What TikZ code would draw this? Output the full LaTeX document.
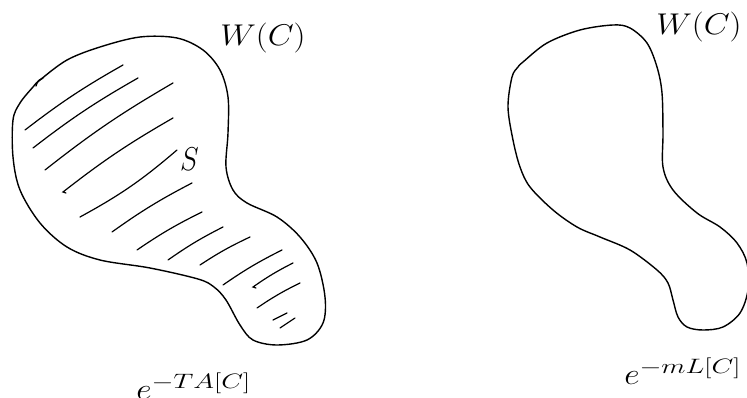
\documentclass[tikz,border=0pt]{standalone}
\usepackage{amsmath}
\DeclareMathSizes{24.88}{24.88}{17.28}{12}
\newcommand{\widesup}[1]{\scalebox{1.21}[1]{$\scriptstyle #1$}}
\begin{document}
\begin{tikzpicture}[x=1pt,y=-1pt,
  curve/.style={line width=1.4pt, line join=round, line cap=round},
  hatch/.style={line width=1.2pt, line cap=round},
  lab/.style={inner sep=0pt, anchor=base west, font=\fontsize{24.88}{30}\selectfont, xscale=1.35, yscale=1.206, transform shape}]
\useasboundingbox (0,0) rectangle (747,398);
% left blob
\draw[curve] plot[smooth cycle, tension=0.55] coordinates {
 (40,80) (67,60) (100,47) (140,37) (177,38) (203,50) (220,70) (228,97)
 (228,133) (226,167) (233,190) (247,203) (277,217) (300,237) (317,263)
 (325,297) (323,323) (307,340) (277,345) (253,340) (240,325) (226,300)
 (214,287) (198,279) (150,268) (100,260) (67,247) (40,223) (20,190)
 (13,157) (13,120) (20,103) (33,87)};
\draw[curve] (36,86) .. controls (37,81) and (40,79) .. (43,78);
% hatching
\draw[hatch] (25,130) to[bend left=4] (123,65);
\draw[hatch] (33,148) to[bend left=4] (138,78);
\draw[hatch] (45,170) to[bend left=4] (173,83);
\draw[hatch] (66,193) -- (63,192) to[bend left=4] (173,118);
\draw[hatch] (80,217) to[bend right=6] (177,150);
\draw[hatch] (112,232) to[bend left=4] (192,183);
\draw[hatch] (137,250) to[bend left=4] (202,212);
\draw[hatch] (168,260) to[bend left=4] (223,227);
\draw[hatch] (200,265) to[bend left=4] (250,237);
\draw[hatch] (223,285) to[bend left=4] (282,250);
\draw[hatch] (256,288) -- (253,287) to[bend left=4] (293,263);
\draw[hatch] (257,308) to[bend left=4] (300,283);
\draw[hatch] (273,320) -- (287,313);
\draw[hatch] (280,328) -- (295,318);
% right blob
\draw[curve] plot[smooth cycle, tension=0.55] coordinates {
 (523,62) (547,43) (580,30) (613,25) (630,28) (647,43) (657,67) (662,93)
 (663,133) (663,167) (673,190) (697,213) (720,227) (737,243) (747,263)
 (748,290) (740,313) (723,327) (703,330) (687,327) (678,317) (673,300)
 (668,283) (657,270) (630,250) (600,237) (577,227) (553,210) (530,187)
 (520,167) (513,140) (508,107) (512,77) (518,67)};
% labels
\node[lab] (w1) at (220,46) {$W(C)$};
\node[lab, xscale=0.84, yscale=1.1] (s) at (180,171) {$S$};
\node[lab] (e1) at (136,399) {$e^{\widesup{-TA[C]}}$};
\node[lab] (w2) at (656,35) {$W(C)$};
\node[lab] (e2) at (624,384) {$e^{\widesup{-mL[C]}}$};
\end{tikzpicture}
\end{document}
